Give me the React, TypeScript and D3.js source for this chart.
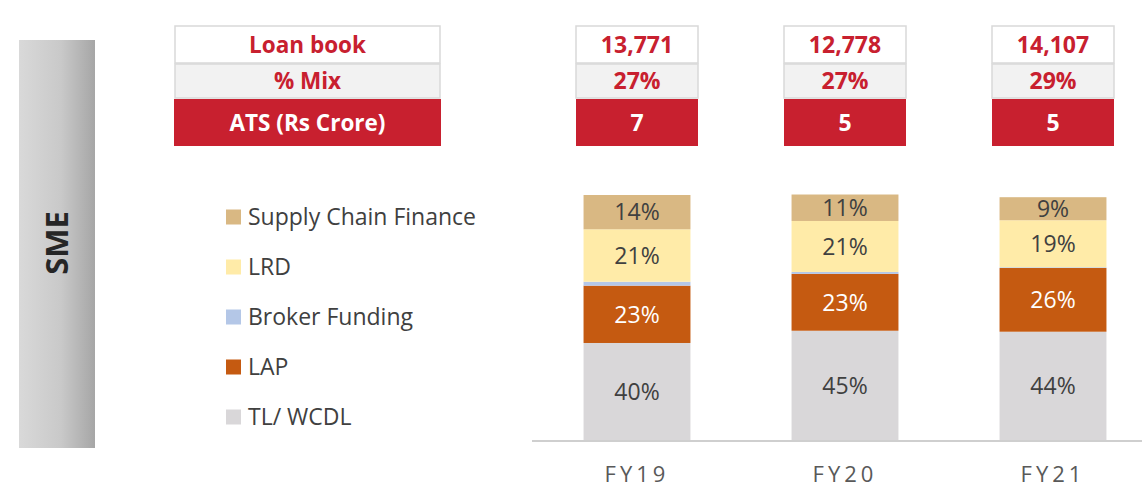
import React from "react";
import * as d3 from "d3";

const categories = ["FY19", "FY20", "FY21"];
const loanBook = [13771, 12778, 14107];
const mixPct = [27, 27, 29];
const atsCrore = [7, 5, 5];

const seriesNames = ["TL/ WCDL", "LAP", "Broker Funding", "LRD", "Supply Chain Finance"];
const tlWcdl = [39.6, 44.6, 44.2];
const lap = [23.4, 23.2, 26.0];
const brokerFunding = [1.6, 0.8, 0.3];
const lrd = [21.4, 20.8, 19.2];
const supplyChain = [14.0, 10.8, 9.4];

const seriesColors = ["#D9D7D9", "#C55A11", "#B4C7E7", "#FFEBA8", "#D9B883"];
const labelColors = ["#404040", "#FFFFFF", "none", "#404040", "#404040"];

const W = 1142;
const H = 487;
const RED = "#C8202F";
const FONT = "'Open Sans', 'Noto Sans', sans-serif";

export default function App() {
  const x = d3.scaleBand<string>().domain(categories).range([533, 1157]).paddingInner(0.486).paddingOuter(0.243);
  const y = d3.scaleLinear().domain([0, 100]).range([440, 195]);
  const stackData = categories.map((c, i) => ({
    cat: c,
    s0: tlWcdl[i],
    s1: lap[i],
    s2: brokerFunding[i],
    s3: lrd[i],
    s4: supplyChain[i],
  }));
  const keys = ["s0", "s1", "s2", "s3", "s4"];
  const stacked = d3.stack<any>().keys(keys)(stackData);
  const bw = x.bandwidth();
  const cellW = 122;
  const fmt = d3.format(",");

  const rows = [
    { y0: 26, y1: 63, fill: "#FFFFFF", stroke: "#D9D9D9", color: RED },
    { y0: 64, y1: 98, fill: "#F2F2F2", stroke: "#D9D9D9", color: RED },
    { y0: 99, y1: 146, fill: RED, stroke: "none", color: "#FFFFFF" },
  ];
  const rowLabels = ["Loan book", "% Mix", "ATS (Rs Crore)"];
  const rowValues = [
    loanBook.map((v) => fmt(v)),
    mixPct.map((v) => `${v}%`),
    atsCrore.map((v) => `${v}`),
  ];

  const legendOrder = [4, 3, 2, 1, 0];

  return (
    <svg width={W} height={H} style={{ position: "absolute", left: 0, top: 0 }} fontFamily={FONT}>
      <defs>
        <linearGradient id="smeGrad" x1="0" x2="1" y1="0" y2="0">
          <stop offset="0" stopColor="#D9D9D9" />
          <stop offset="0.55" stopColor="#C9C9C9" />
          <stop offset="1" stopColor="#A6A6A6" />
        </linearGradient>
      </defs>
      <rect x={19} y={40} width={76} height={408} fill="url(#smeGrad)" />
      <text
        transform="translate(57,243) rotate(-90)"
        textAnchor="middle"
        dy="0.36em"
        fontSize={31}
        fontWeight="bold"
        fill="#262626"
      >
        SME
      </text>

      {rows.map((r, ri) => (
        <g key={ri}>
          <rect
            x={ri === 2 ? 174 : 175}
            y={r.y0}
            width={ri === 2 ? 267 : 265}
            height={r.y1 - r.y0}
            fill={r.fill}
            stroke={r.stroke}
            strokeWidth={1.5}
          />
          <text x={307.5} y={(r.y0 + r.y1) / 2} dy="0.36em" textAnchor="middle" fontSize={22.5} fontWeight="bold" fill={r.color}>
            {rowLabels[ri]}
          </text>
          {categories.map((c, ci) => {
            const cx = (x(c) as number) + bw / 2;
            return (
              <g key={c}>
                <rect
                  x={cx - cellW / 2}
                  y={r.y0}
                  width={cellW}
                  height={r.y1 - r.y0}
                  fill={r.fill}
                  stroke={r.stroke}
                  strokeWidth={1.5}
                />
                <text x={cx} y={(r.y0 + r.y1) / 2} dy="0.36em" textAnchor="middle" fontSize={23} fontWeight="bold" fill={r.color}>
                  {rowValues[ri][ci]}
                </text>
              </g>
            );
          })}
        </g>
      ))}

      {stacked.map((layer, li) => (
        <g key={li}>
          {layer.map((d: any, di: number) => {
            const c = categories[di];
            const y0 = y(d[0]);
            const y1 = y(d[1]);
            return (
              <g key={c}>
                <rect x={x(c)} y={y1} width={bw} height={y0 - y1} fill={seriesColors[li]} />
                {labelColors[li] !== "none" && (
                  <text
                    x={(x(c) as number) + bw / 2}
                    y={(y0 + y1) / 2}
                    dy="0.36em"
                    textAnchor="middle"
                    fontSize={23}
                    fill={labelColors[li]}
                  >
                    {`${Math.round(d[1] - d[0])}%`}
                  </text>
                )}
              </g>
            );
          })}
        </g>
      ))}

      <line x1={532} x2={W} y1={441} y2={441} stroke="#BFBFBF" strokeWidth={1.5} />
      {categories.map((c) => (
        <text
          key={c}
          x={(x(c) as number) + bw / 2}
          y={482}
          textAnchor="middle"
          fontSize={22}
          letterSpacing={4}
          fill="#595959"
        >
          {c}
        </text>
      ))}

      {legendOrder.map((si, i) => {
        const cy = 217 + i * 50;
        return (
          <g key={si}>
            <rect x={226} y={cy - 7.5} width={15} height={15} fill={seriesColors[si]} />
            <text x={248} y={cy} dy="0.36em" fontSize={23} fill="#404040">
              {seriesNames[si]}
            </text>
          </g>
        );
      })}
    </svg>
  );
}
